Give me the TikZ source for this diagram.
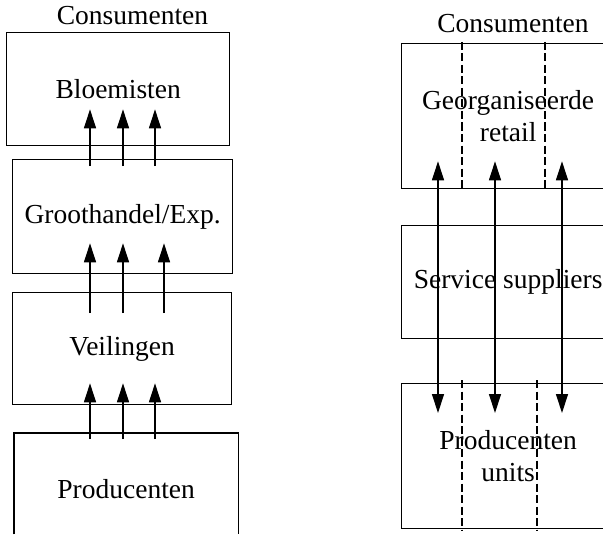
\documentclass[tikz,border=0pt]{standalone}
\usepackage{fontspec}
\setmainfont{Liberation Serif}
\usetikzlibrary{arrows.meta,calc}
\begin{document}
\begin{tikzpicture}[x=1pt,y=-1pt,
 box/.style={draw,line width=1.3pt,rectangle,inner sep=0pt,anchor=north west,font=\fontsize{27.5}{32}\selectfont,align=center},
 lbl/.style={font=\fontsize{27.5}{32}\selectfont,inner sep=0pt},
 arr/.style={line width=1.3pt,-{Triangle[length=19pt,width=12pt]}},
 darr/.style={line width=1.3pt,{Triangle[length=19pt,width=12pt]}-{Triangle[length=19pt,width=12pt]}},
 sep/.style={line width=2pt,dash pattern=on 8pt off 3.5pt}]
\useasboundingbox (0,0) rectangle (603,543);
\clip (0,0) rectangle (603,543);
\fill[white] (0,0) rectangle (603,543);
% left column
\node[lbl,anchor=base] (c1) at (132.5,25) {Consumenten};
\node[box,minimum width=223pt,minimum height=113pt] (bloem) at (6,32) {Bloemisten};
\node[box,minimum width=220pt,minimum height=114pt] (groot) at (12,159) {Groothandel/Exp.};
\node[box,minimum width=219pt,minimum height=112pt] (veil) at (12,292) {Veilingen};
\node[box,draw=none,minimum width=223pt,minimum height=110pt] (prod) at (14,433) {Producenten};
\draw[line width=1.3pt] ($(prod.south west)+(0,-10)$) -- (prod.north west) -- (prod.north east) -- ($(prod.south east)+(0,-10)$);
% arrows left
\foreach \a/\b in {78/84,111/117,143/149}
  \draw[arr] ($(groot.north west)+(\a,7)$) -- ($(bloem.south west)+(\b,-37)$);
\foreach \a in {78,111,152}
  \draw[arr] ($(veil.north west)+(\a,21)$) -- ($(groot.south west)+(\a,-31)$);
\foreach \a/\b in {76/78,109/111,141/143}
  \draw[arr] ($(prod.north west)+(\a,6)$) -- ($(veil.south west)+(\b,-22)$);
% right column
\node[lbl,anchor=base] (c2) at (513,33) {Consumenten};
\node[box,minimum width=213pt,minimum height=145pt] (retail) at (401,43) {Georganiseerde\\retail};
\node[box,minimum width=213pt,minimum height=113pt] (serv) at (401,225) {Service suppliers};
\node[box,minimum width=213pt,minimum height=145pt] (punits) at (401,383) {Producenten\\units};
\foreach \a in {61,144}
  \draw[sep] ($(retail.north west)+(\a,-1)$) -- ($(retail.south west)+(\a,2)$);
\foreach \a in {61,136}
  \draw[sep] ($(punits.north west)+(\a,-3)$) -- ($(punits.south west)+(\a,2)$);
\foreach \a in {37,94,161}
  \draw[darr] ($(retail.south west)+(\a,-28)$) -- ($(punits.north west)+(\a,30)$);
\end{tikzpicture}
\end{document}
